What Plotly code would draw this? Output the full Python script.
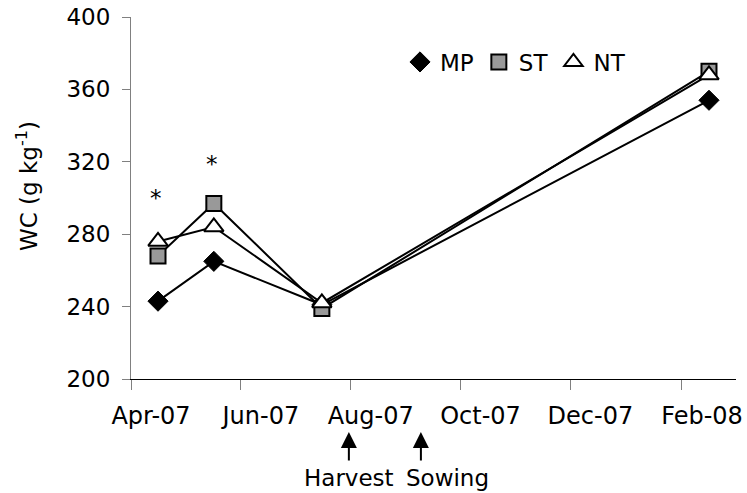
import plotly.graph_objects as go

dates = ['2007-04-16', '2007-05-17', '2007-07-16', '2008-02-16']
mp = [243, 265, 241, 354]
st = [268, 297, 239, 370]
nt = [276, 284, 242, 368]

star_dates = ['2007-04-15', '2007-05-16']
star_vals = [300, 319]

event_dates = ['2007-07-31', '2007-09-09']
event_text_dates = ['2007-07-31', '2007-09-24']
event_labels = ['Harvest', 'Sowing']

FONT = 'DejaVu Sans'
FS = 23

fig = go.Figure()
series = [
    ('MP', mp, dict(symbol='diamond', size=15.5, color='black', line=dict(color='black', width=1))),
    ('ST', st, dict(symbol='square', size=15, color='#999999', line=dict(color='black', width=2))),
    ('NT', nt, dict(symbol='triangle-up', size=17, color='white', line=dict(color='black', width=2))),
]
for name, vals, mk in series:
    fig.add_trace(go.Scatter(x=dates, y=vals, mode='lines+markers', name=name,
                             line=dict(color='black', width=2), marker=mk, showlegend=False))
for name, vals, mk in series:
    fig.add_trace(go.Scatter(x=[None], y=[None], mode='markers', name=name, marker=mk, showlegend=True))

annotations = []
for d, v in zip(star_dates, star_vals):
    annotations.append(dict(x=d, y=v, xref='x', yref='y', text='*', showarrow=False,
                            font=dict(family=FONT, size=FS, color='black')))
for d in event_dates:
    annotations.append(dict(x=d, y=(379 - 432) / 362, xref='x', yref='paper', text='',
                            showarrow=True, ax=0, ay=30, arrowhead=2, arrowsize=1.6,
                            arrowwidth=2, arrowcolor='black'))
for d, t in zip(event_text_dates, event_labels):
    annotations.append(dict(x=d, y=(379 - 478) / 362, xref='x', yref='paper', text=t,
                            showarrow=False, yanchor='middle',
                            font=dict(family=FONT, size=FS, color='black')))
annotations.append(dict(x=(27 - 131) / 605, y=(379 - 186) / 362, xref='paper', yref='paper',
                        text='WC (g kg<sup>-1</sup>)', textangle=-90, showarrow=False,
                        xanchor='center', yanchor='middle',
                        font=dict(family=FONT, size=FS, color='black')))

fig.update_layout(
    width=747, height=493,
    margin=dict(l=131, r=11, t=17, b=114, autoexpand=False),
    paper_bgcolor='white', plot_bgcolor='white',
    font=dict(family=FONT, size=FS, color='black'),
    showlegend=True,
    legend=dict(orientation='h', x=(400 - 131) / 605, y=(379 - 62) / 362,
                xanchor='left', yanchor='middle', bgcolor='rgba(0,0,0,0)',
                font=dict(family=FONT, size=FS, color='black'), itemwidth=30),
    annotations=annotations,
)
fig.update_xaxes(type='date', range=['2007-04-01', '2008-03-02'], tick0='2007-04-01', dtick='M2',
                 tickformat='%b-%y', showgrid=False, zeroline=False, showline=True,
                 linecolor='black', linewidth=1, ticks='outside', ticklen=10, tickcolor='#808080',
                 automargin=False, ticklabelstandoff=5, ticklabelshift=20,
                 tickfont=dict(family=FONT, size=24, color='black'))
fig.update_yaxes(range=[200, 400], dtick=40, showgrid=False, zeroline=False, showline=True,
                 linecolor='#808080', linewidth=1, ticks='outside', ticklen=8, tickcolor='#808080',
                 ticklabelstandoff=7, automargin=False,
                 tickfont=dict(family=FONT, size=FS, color='black'))

fig.write_html('out.html', config={'displayModeBar': False},
               post_script="document.body.style.margin='0';document.body.style.overflow='hidden';")
